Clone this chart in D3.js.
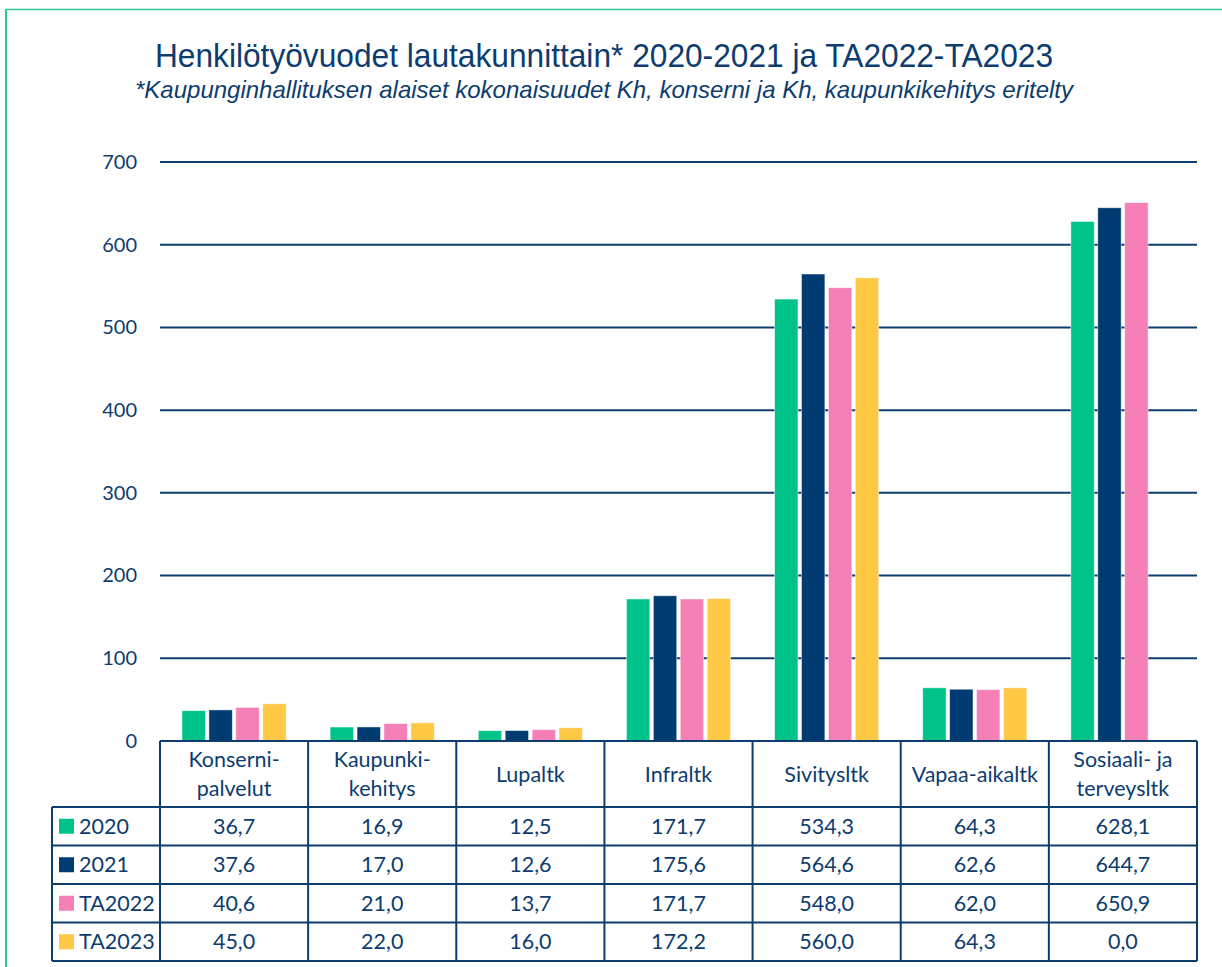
<!DOCTYPE html>
<html><head><meta charset="utf-8">
<script src="https://cdn.jsdelivr.net/npm/d3@7"></script>
<style>body{margin:0;background:#fff}svg{display:block}</style>
</head><body><svg id="c" width="1222" height="967"></svg>
<script>
const categories = [["Konserni-","palvelut"],["Kaupunki-","kehitys"],["Lupaltk"],["Infraltk"],["Sivitysltk"],["Vapaa-aikaltk"],["Sosiaali- ja","terveysltk"]];
const series = ["2020","2021","TA2022","TA2023"];
const v2020 = [36.7,16.9,12.5,171.7,534.3,64.3,628.1];
const v2021 = [37.6,17.0,12.6,175.6,564.6,62.6,644.7];
const vTA2022 = [40.6,21.0,13.7,171.7,548.0,62.0,650.9];
const vTA2023 = [45.0,22.0,16.0,172.2,560.0,64.3,0.0];
const yTicks = [0,100,200,300,400,500,600,700];
const colors = ["#00C389","#003B71","#F57FB7","#FFC845"];
const values = [v2020,v2021,vTA2022,vTA2023];

const navy = "#0D3C6E";
const svg = d3.select("#c");
const catIdx = d3.range(categories.length);
const x = d3.scaleBand().domain(catIdx).range([160,1197]);
const y = d3.scaleLinear().domain([0,700]).range([741,162]);
const x1 = d3.scaleBand().domain(series).range([22, x.bandwidth()-22]).paddingInner(0.13);

// green frame
svg.append("line").attr("x1",6).attr("x2",1222).attr("y1",9.5).attr("y2",9.5).attr("stroke","#2DC98F").attr("stroke-width",1.5);
svg.append("line").attr("x1",6).attr("x2",6).attr("y1",9).attr("y2",967).attr("stroke","#2DC98F").attr("stroke-width",2);

// title
svg.append("text").attr("x",604).attr("y",67).attr("text-anchor","middle")
  .attr("font-family","Liberation Sans, Arial, sans-serif").attr("font-size",33).attr("fill",navy)
  .attr("textLength",898).attr("lengthAdjust","spacingAndGlyphs")
  .text("Henkilötyövuodet lautakunnittain* 2020-2021  ja TA2022-TA2023");
svg.append("text").attr("x",604).attr("y",98).attr("text-anchor","middle")
  .attr("font-family","Liberation Sans, Arial, sans-serif").attr("font-size",24).attr("font-style","italic").attr("fill",navy)
  .attr("textLength",938).attr("lengthAdjust","spacingAndGlyphs")
  .text("*Kaupunginhallituksen alaiset kokonaisuudet Kh, konserni ja Kh, kaupunkikehitys eritelty");

// gridlines & y axis
const yAxis = d3.axisLeft(y).tickValues(yTicks).tickSize(0).tickPadding(23).tickFormat(d3.format("d"));
const ga = svg.append("g").attr("transform","translate(160,0)").call(yAxis);
ga.select(".domain").remove();
ga.selectAll("text").attr("font-family","Lato, 'Open Sans', sans-serif").attr("font-size",20).attr("fill",navy);
svg.append("g").selectAll("line").data(yTicks.filter(d=>d>0)).join("line")
  .attr("x1",160).attr("x2",1197).attr("y1",d=>y(d)).attr("y2",d=>y(d))
  .attr("stroke",navy).attr("stroke-width",2);

// bars
series.forEach((s,si)=>{
  svg.append("g").selectAll("rect").data(catIdx.filter(i=>values[si][i]>0)).join("rect")
    .attr("x",i=>x(i)+x1(s)).attr("width",x1.bandwidth())
    .attr("y",i=>y(values[si][i])).attr("height",i=>y(0)-y(values[si][i]))
    .attr("fill",colors[si]).attr("stroke","#fff").attr("stroke-opacity",0.6).attr("stroke-width",0.8);
});

// table
const tableTop = 741, headH = 66, rowH = 38.5;
const tf = "Lato, 'Open Sans', sans-serif";
const fs = 21.5;
const t = svg.append("g");
catIdx.forEach(i=>{
  const lines = categories[i];
  const cx = x(i)+x.bandwidth()/2;
  const cy = tableTop+headH/2;
  lines.forEach((ln,li)=>{
    t.append("text").attr("x",cx).attr("y",cy + (li-(lines.length-1)/2)*29 + 7.5)
      .attr("text-anchor","middle").attr("font-family",tf).attr("font-size",fs).attr("fill",navy).text(ln);
  });
});
series.forEach((s,si)=>{
  const ry = tableTop+headH+si*rowH;
  t.append("rect").attr("x",59).attr("y",ry+rowH/2-7.5).attr("width",15).attr("height",15).attr("fill",colors[si]);
  t.append("text").attr("x",79).attr("y",ry+rowH/2+7.5).attr("font-family",tf).attr("font-size",fs).attr("fill",navy).text(s);
  catIdx.forEach(i=>{
    t.append("text").attr("x",x(i)+x.bandwidth()/2).attr("y",ry+rowH/2+7.5).attr("text-anchor","middle")
      .attr("font-family",tf).attr("font-size",fs).attr("fill",navy)
      .text(d3.format(".1f")(values[si][i]).replace(".",","));
  });
});
const bottom = tableTop+headH+series.length*rowH;
const L = (x1_,y1_,x2_,y2_)=>t.append("line").attr("x1",x1_).attr("y1",y1_).attr("x2",x2_).attr("y2",y2_).attr("stroke",navy).attr("stroke-width",2);
L(160,tableTop,1197,tableTop);
for(let r=0;r<=series.length;r++){ const yy=tableTop+headH+r*rowH; L(52,yy,1197,yy); }
L(52,tableTop+headH,52,bottom);
catIdx.forEach(i=>L(x(i),tableTop,x(i),bottom));
L(1197,tableTop,1197,bottom);
</script></body></html>
